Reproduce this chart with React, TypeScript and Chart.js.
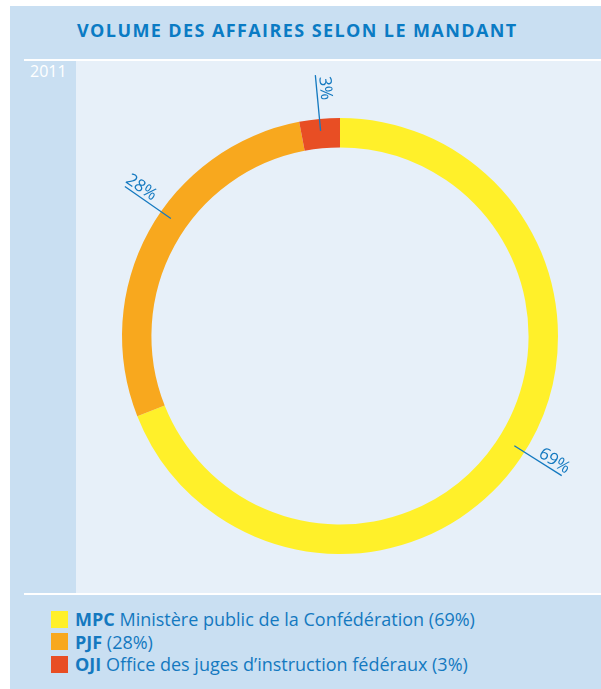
import React, { useEffect, useRef } from "react";
import { Chart, registerables } from "chart.js";

Chart.register(...registerables);

const TITLE = "VOLUME DES AFFAIRES SELON LE MANDANT";
const YEAR = "2011";
const CODES = ["MPC", "PJF", "OJI"];
const NAMES = ["Ministère public de la Confédération", "", "Office des juges d’instruction fédéraux"];
const VALUES = [69, 28, 3];
const COLORS = ["#fff02a", "#f8a81e", "#e84e24"];
const LABEL_SHIFT_DEG = [-2, 6, 0];

const BLUE = "#1479c0";

const leaderPlugin = {
  id: "leaderLabels",
  afterDatasetsDraw(chart: any) {
    const ctx = chart.ctx;
    const meta = chart.getDatasetMeta(0);
    const data = chart.data.datasets[0].data as number[];
    ctx.save();
    meta.data.forEach((arc: any, i: number) => {
      const p = arc.getProps(["x", "y", "startAngle", "endAngle", "outerRadius", "innerRadius"], true);
      const mid = (p.startAngle + p.endAngle) / 2 + (LABEL_SHIFT_DEG[i] * Math.PI) / 180;
      const r0 = p.outerRadius - 12;
      const r1 = p.outerRadius + 44;
      const cx = p.x, cy = p.y;
      ctx.strokeStyle = BLUE;
      ctx.lineWidth = 1.3;
      ctx.beginPath();
      ctx.moveTo(cx + Math.cos(mid) * r0, cy + Math.sin(mid) * r0);
      ctx.lineTo(cx + Math.cos(mid) * r1, cy + Math.sin(mid) * r1);
      ctx.stroke();
      let rot = mid;
      while (rot > Math.PI / 2) rot -= Math.PI;
      while (rot <= -Math.PI / 2) rot += Math.PI;
      const rt = p.outerRadius + 30;
      ctx.save();
      ctx.translate(cx + Math.cos(mid) * rt, cy + Math.sin(mid) * rt);
      ctx.rotate(rot);
      ctx.fillStyle = BLUE;
      ctx.font = '17px "Open Sans", sans-serif';
      ctx.textAlign = "center";
      ctx.textBaseline = "bottom";
      ctx.fillText(data[i] + "%", 0, 0);
      ctx.restore();
    });
    ctx.restore();
  },
};

export default function App() {
  const ref = useRef<HTMLCanvasElement | null>(null);
  useEffect(() => {
    if (!ref.current) return;
    const chart = new Chart(ref.current, {
      type: "doughnut",
      data: {
        labels: CODES,
        datasets: [
          {
            data: VALUES,
            backgroundColor: COLORS,
            borderWidth: 0,
          },
        ],
      },
      options: {
        animation: false,
        responsive: false,
        cutout: "86.5%",
        layout: { padding: { top: 57, bottom: 39, left: 20, right: 17 } },
        plugins: { legend: { display: false }, tooltip: { enabled: false } },
      },
      plugins: [leaderPlugin],
    });
    return () => chart.destroy();
  }, []);

  const font = '"Open Sans", "Noto Sans", sans-serif';
  return (
    <div style={{ position: "absolute", left: 0, top: 0, width: 601, height: 689, background: "#fff", fontFamily: font, overflow: "hidden" }}>
      <div style={{ position: "absolute", left: 10, top: 6, width: 591, height: 683, background: "#c9dff2" }} />
      <div style={{ position: "absolute", left: 77, top: 17, fontWeight: 700, fontSize: 18, letterSpacing: 1.4, color: "#0a7bc4", whiteSpace: "nowrap", lineHeight: "26px" }}>
        {TITLE}
      </div>
      <div style={{ position: "absolute", left: 24, top: 59, width: 577, height: 2, background: "#ffffff" }} />
      <div style={{ position: "absolute", left: 30, top: 60, fontSize: 16, color: "#ffffff" }}>{YEAR}</div>
      <div style={{ position: "absolute", left: 76, top: 61, width: 525, height: 532, background: "#e7f0f9" }}>
        <canvas ref={ref} width={525} height={532} style={{ display: "block" }} />
      </div>
      <div style={{ position: "absolute", left: 24, top: 593, width: 577, height: 2, background: "#ffffff" }} />
      {CODES.map((c, i) => (
        <div key={c} style={{ position: "absolute", left: 51, top: 608 + i * 22.5, height: 22, display: "flex", alignItems: "center", whiteSpace: "nowrap", fontSize: 18, color: BLUE }}>
          <span style={{ display: "inline-block", width: 17, height: 17, background: COLORS[i], marginRight: 7 }} />
          <b>{c}</b>
          <span>&nbsp;{NAMES[i] ? NAMES[i] + " " : ""}({VALUES[i]}%)</span>
        </div>
      ))}
    </div>
  );
}
